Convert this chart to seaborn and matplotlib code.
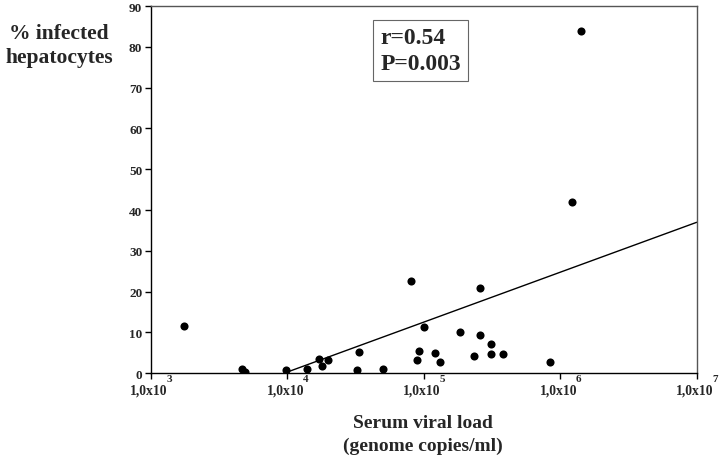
import matplotlib
matplotlib.use("Agg")
import matplotlib.pyplot as plt
import matplotlib.transforms as mtransforms
import seaborn as sns
import pandas as pd
import numpy as np

# Data
viral_load = [1750, 4660, 4900, 9800, 13900, 17000, 18000, 20000, 33300, 32400,
              50600, 80900, 100900, 92200, 89600, 121600, 131600, 183500, 256400,
              256400, 235500, 309000, 309000, 380000, 845000, 1220000, 1420000]
infected_pct = [11.6, 1.15, 0.2, 0.7, 1.0, 3.4, 1.8, 3.2, 5.3, 0.7,
                1.15, 22.6, 11.4, 5.4, 3.3, 5.0, 2.8, 10.2, 20.8,
                9.3, 4.3, 7.2, 4.7, 4.65, 2.8, 41.9, 83.9]
fit_x = [1e4, 1e7]
fit_y = [0.3, 37.0]
x_ticks = [1e3, 1e4, 1e5, 1e6, 1e7]
x_exponents = ["3", "4", "5", "6", "7"]
y_ticks = [0, 10, 20, 30, 40, 50, 60, 70, 80, 90]
stats_text = "r=0.54\nP=0.003"

sns.set_style("white")
plt.rcParams["font.family"] = ["Liberation Serif", "DejaVu Serif"]
plt.rcParams["font.weight"] = "bold"

df = pd.DataFrame({"load": viral_load, "pct": infected_pct})
fit_df = pd.DataFrame({"x": fit_x, "y": fit_y})

fig = plt.figure(figsize=(7.2, 4.64), dpi=100)
L, R, T, B = 150.7, 696.7, 7.0, 374.3
ax = fig.add_axes([L/720, 1-B/464, (R-L)/720, (B-T)/464])

sns.lineplot(data=fit_df, x="x", y="y", ax=ax, color="black", lw=1.0)
sns.scatterplot(data=df, x="load", y="pct", ax=ax, color="black", s=34,
                edgecolor="black", linewidth=0, zorder=3)

ax.set_xscale("log")
ax.set_xlim(1e3, 1e7)
ax.set_ylim(0, 90)
ax.set_xticks(x_ticks)
ax.set_xticklabels(["1,0x10"] * len(x_ticks), fontsize=9.8, fontweight="bold")
ax.minorticks_off()
ax.set_yticks(y_ticks)
ax.set_yticklabels([str(v) for v in y_ticks], fontsize=9.5, fontweight="bold")
ax.tick_params(axis="both", direction="out", length=4, width=1, color="black",
               left=True, bottom=True)
ax.tick_params(axis="x", pad=3.5)
ax.tick_params(axis="y", pad=2)
shift = mtransforms.ScaledTranslation(-2/100, 0, fig.dpi_scale_trans)
for lab in ax.get_xticklabels():
    lab.set_transform(lab.get_transform() + shift)
ax.set_xlabel("")
ax.set_ylabel("")
for sp in ax.spines.values():
    sp.set_visible(True)
    sp.set_color("black")
    sp.set_linewidth(1.0)
ax.spines["right"].set_color("#555555")
ax.spines["top"].set_color("#555555")

for xv, ex in zip(x_ticks, x_exponents):
    ax.annotate(ex, xy=(xv, 0), xycoords=("data", "axes fraction"),
                xytext=(13.4, -3.8), textcoords="offset points",
                fontsize=8, fontweight="bold", ha="center", va="center")

ax.text(0.421, 0.943, stats_text, transform=ax.transAxes, fontsize=17,
        fontweight="bold", ha="left", va="top", linespacing=1.33,
        bbox=dict(boxstyle="square,pad=0.3", facecolor="white",
                  edgecolor="#666666", linewidth=0.8))

fig.text(59/720, 1-46/464, "% infected\nhepatocytes", fontsize=15.5,
         fontweight="bold", ha="center", va="center", linespacing=1.3)
fig.text(423/720, 1-435/464, "Serum viral load\n(genome copies/ml)", fontsize=14,
         fontweight="bold", ha="center", va="center", linespacing=1.4)

fig.savefig("out.png", dpi=100, facecolor="white")
